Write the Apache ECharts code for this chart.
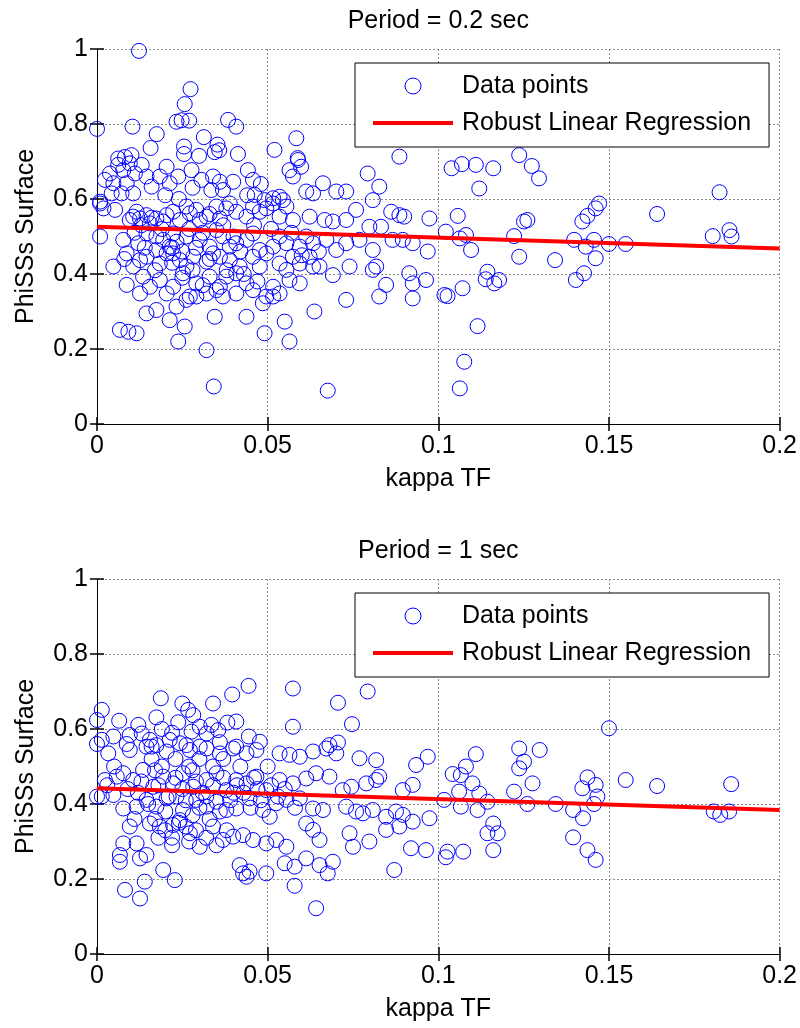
<!DOCTYPE html>
<html>
<head>
<meta charset="utf-8">
<script src="https://cdn.jsdelivr.net/npm/echarts@6/dist/echarts.min.js"></script>
<style>
html,body{margin:0;padding:0;background:#fff;}
#chart{width:800px;height:1028px;}
</style>
</head>
<body>
<div id="chart"></div>
<script>
// ---------- DATA ----------
const xTickLabels = ['0', '0.05', '0.1', '0.15', '0.2'];
const yTickLabels = ['0', '0.2', '0.4', '0.6', '0.8', '1'];
const titles = ['Period = 0.2 sec', 'Period = 1 sec'];
const xLabel = 'kappa TF';
const yLabel = 'PhiSSs Surface';
const legendNames = ['Data points', 'Robust Linear Regression'];

const pointsTop = [
  [0.0123,0.995],[0.0274,0.893],[0.0257,0.853],[0.0233,0.806],[0.0248,0.81],[0.027,0.809],[0.0,0.787],[0.0104,0.793],
  [0.0175,0.773],[0.0384,0.811],[0.0408,0.793],[0.0584,0.762],[0.052,0.731],[0.0313,0.765],[0.0353,0.745],[0.0358,0.73],
  [0.0345,0.725],[0.0255,0.74],[0.0255,0.72],[0.0299,0.715],[0.0157,0.736],[0.0413,0.72],[0.0588,0.709],[0.0062,0.708],
  [0.0082,0.712],[0.0101,0.717],
  [0.0023,0.651],[0.0048,0.642],[0.0062,0.691],[0.0077,0.677],[0.0096,0.695],[0.0111,0.668],[0.0131,0.691],[0.0087,0.642],
  [0.0106,0.615],[0.0072,0.615],[0.0043,0.615],[0.016,0.633],[0.0204,0.686],[0.0184,0.66],[0.0213,0.642],[0.0238,0.66],
  [0.0277,0.677],[0.0306,0.651],[0.034,0.66],[0.036,0.646],[0.0369,0.624],[0.0399,0.646],[0.0335,0.624],[0.0442,0.677],
  [0.0457,0.651],[0.0462,0.611],[0.0491,0.597],[0.0516,0.588],[0.0535,0.606],[0.0564,0.677],[0.0574,0.66],[0.0589,0.704],
  [0.0598,0.686],[0.0613,0.62],[0.0633,0.615],[0.0662,0.642],[0.0701,0.62],[0.073,0.62],[0.0793,0.668],[0.0827,0.633],
  [0.0808,0.597],[0.0886,0.713],[0.0009,0.593],[0.0038,0.668],[0.0145,0.66],
  [0.0009,0.588],[0.0019,0.575],[0.0053,0.571],[0.0106,0.553],[0.0126,0.548],[0.0145,0.557],[0.0174,0.548],[0.0194,0.54],
  [0.0223,0.566],[0.0272,0.562],[0.0291,0.571],[0.0321,0.553],[0.035,0.58],[0.0379,0.575],[0.0408,0.566],[0.0438,0.553],
  [0.0477,0.566],[0.0496,0.575],[0.0535,0.553],[0.0574,0.544],[0.0623,0.553],[0.0667,0.544],[0.0691,0.54],[0.073,0.544],
  [0.0759,0.571],[0.0798,0.526],[0.0832,0.526],[0.0862,0.566],[0.0886,0.557],[0.09,0.553],
  [0.0096,0.544],[0.0116,0.566],[0.0155,0.535],[0.0204,0.557],[0.0243,0.544],[0.0262,0.58],[0.0301,0.544],[0.036,0.548],
  [0.0389,0.588],[0.0457,0.58],[0.0516,0.602],[0.0545,0.597],[0.0555,0.58],
  [0.0009,0.5],[0.0077,0.491],[0.0121,0.482],[0.0174,0.5],[0.0213,0.473],[0.0233,0.486],[0.0262,0.5],[0.0301,0.491],
  [0.033,0.473],[0.0369,0.5],[0.0408,0.482],[0.0438,0.491],[0.0477,0.464],[0.0516,0.473],[0.0555,0.482],[0.0594,0.473],
  [0.0633,0.482],[0.0672,0.491],[0.0701,0.464],[0.073,0.482],[0.0769,0.491],[0.0808,0.464],[0.0866,0.491],[0.0896,0.491],
  [0.0925,0.482],[0.0145,0.508],[0.0194,0.491],[0.0223,0.508],[0.035,0.517],[0.0389,0.473],[0.0457,0.508],[0.0535,0.5],
  [0.0613,0.5],
  [0.0048,0.42],[0.0087,0.455],[0.0126,0.437],[0.0145,0.446],[0.0174,0.464],[0.0204,0.455],[0.0243,0.437],[0.0282,0.446],
  [0.0321,0.433],[0.036,0.446],[0.0389,0.437],[0.0418,0.42],[0.0457,0.446],[0.0496,0.455],[0.0535,0.428],[0.0574,0.446],
  [0.0623,0.446],[0.0652,0.42],[0.0691,0.397],[0.074,0.42],[0.0818,0.42],[0.0808,0.411],[0.0847,0.371],[0.0915,0.402],
  [0.0925,0.375],[0.0106,0.42],[0.0184,0.428],[0.0223,0.455],[0.0262,0.42],[0.034,0.455],[0.0477,0.42],[0.0555,0.411],
  [0.0594,0.428],
  [0.0087,0.371],[0.0135,0.393],[0.0155,0.366],[0.0184,0.384],[0.0223,0.366],[0.0252,0.402],[0.0272,0.34],[0.0291,0.375],
  [0.033,0.393],[0.036,0.366],[0.0379,0.393],[0.0408,0.402],[0.0438,0.375],[0.0457,0.357],[0.0496,0.34],[0.0516,0.366],
  [0.0535,0.348],[0.0564,0.384],[0.0594,0.375],[0.0633,0.42],[0.0827,0.34],[0.0925,0.335],[0.0126,0.348],[0.0204,0.348],
  [0.0321,0.348],
  [0.0145,0.295],[0.0174,0.304],[0.0213,0.277],[0.0233,0.313],[0.0262,0.331],[0.0291,0.34],[0.035,0.357],[0.0369,0.34],
  [0.0408,0.348],[0.0486,0.322],[0.0516,0.34],[0.0637,0.3],[0.073,0.331],
  [0.0067,0.251],[0.0092,0.246],[0.0116,0.242],[0.0257,0.26],[0.0345,0.286],[0.0438,0.286],[0.0491,0.242],[0.055,0.273],
  [0.0564,0.22],[0.0238,0.22],[0.0321,0.197],[0.0342,0.1],[0.0676,0.089],
  [0.013,0.53],[0.016,0.55],[0.019,0.52],[0.022,0.47],[0.025,0.46],[0.027,0.52],[0.029,0.47],[0.031,0.51],
  [0.033,0.56],[0.037,0.53],[0.04,0.5],[0.042,0.46],[0.046,0.53],[0.051,0.52],[0.022,0.43],[0.025,0.39],
  [0.028,0.41],[0.031,0.37],[0.038,0.41],[0.043,0.4],[0.047,0.38],[0.017,0.41],[0.014,0.47],[0.011,0.51],
  [0.008,0.44],[0.057,0.51],[0.06,0.45],[0.065,0.46],[0.033,0.44],[0.02,0.61],[0.024,0.6],[0.028,0.63],
  [0.044,0.61],[0.048,0.64],
  [0.0974,0.548],[0.0969,0.46],[0.0964,0.384],[0.1039,0.682],[0.1069,0.693],[0.111,0.691],[0.1161,0.682],[0.112,0.628],
  [0.1237,0.717],[0.1274,0.688],[0.1295,0.655],[0.1057,0.555],[0.1022,0.513],[0.1081,0.504],[0.1063,0.495],[0.1096,0.464],
  [0.1222,0.501],[0.1237,0.446],[0.1251,0.54],[0.1261,0.544],[0.1144,0.406],[0.1139,0.386],[0.1164,0.375],[0.1178,0.384],
  [0.1071,0.362],[0.1018,0.344],[0.1027,0.341],[0.1115,0.261],[0.1076,0.166],[0.1063,0.095],[0.1342,0.437],[0.1398,0.491],
  [0.1432,0.473],[0.1456,0.491],[0.1461,0.442],[0.1427,0.402],[0.1403,0.384],[0.1422,0.54],[0.1437,0.555],[0.1461,0.575],
  [0.1471,0.588],[0.15,0.48],[0.1549,0.48],[0.1641,0.56],[0.1824,0.618],[0.1804,0.501],[0.1853,0.517],[0.1859,0.5]
];

const pointsBottom = [
  [0.0,0.624],[0.0014,0.651],[0.0014,0.571],[0.0048,0.58],[0.0065,0.622],[0.0096,0.584],[0.0121,0.611],[0.0131,0.588],
  [0.0174,0.631],[0.0187,0.682],[0.0238,0.618],[0.025,0.668],[0.0267,0.651],[0.0282,0.637],[0.0277,0.593],[0.0301,0.606],
  [0.0321,0.588],[0.034,0.668],[0.0335,0.611],[0.0262,0.557],[0.0213,0.571],[0.016,0.553],[0.0155,0.571],[0.0396,0.692],
  [0.0444,0.715],[0.0382,0.617],[0.0408,0.62],[0.0355,0.597],[0.0408,0.553],[0.0477,0.566],[0.0301,0.553],[0.0574,0.708],
  [0.0574,0.606],[0.0681,0.557],[0.0706,0.564],[0.0706,0.67],[0.0747,0.613],[0.0793,0.7],[0.0087,0.56],[0.019,0.6],
  [0.036,0.565],[0.0445,0.58],[0.022,0.59],
  [0.0033,0.535],[0.0096,0.544],[0.0145,0.553],[0.0174,0.557],[0.0204,0.54],[0.0243,0.562],[0.0272,0.544],[0.0321,0.548],
  [0.036,0.535],[0.0399,0.548],[0.0438,0.535],[0.0467,0.544],[0.0535,0.535],[0.0564,0.531],[0.0594,0.526],[0.0633,0.54],
  [0.0672,0.548],[0.0701,0.535],[0.0769,0.522],[0.0818,0.517],[0.0935,0.504],
  [0.0023,0.464],[0.0058,0.473],[0.0077,0.482],[0.0106,0.464],[0.0135,0.491],[0.0165,0.446],[0.0194,0.473],[0.0223,0.455],
  [0.0252,0.482],[0.0282,0.446],[0.0321,0.464],[0.035,0.482],[0.0379,0.437],[0.0408,0.464],[0.0438,0.455],[0.0467,0.473],
  [0.0496,0.437],[0.0535,0.464],[0.0574,0.455],[0.0613,0.468],[0.0642,0.482],[0.0681,0.473],[0.072,0.437],[0.0745,0.446],
  [0.0789,0.455],[0.0818,0.464],[0.0827,0.473],[0.0896,0.437],[0.0925,0.451],
  [0.0014,0.42],[0.0048,0.424],[0.0077,0.388],[0.0116,0.393],[0.0145,0.411],[0.0174,0.393],[0.0204,0.415],[0.0233,0.42],
  [0.0252,0.384],[0.0291,0.411],[0.0321,0.393],[0.035,0.406],[0.0379,0.384],[0.0408,0.388],[0.0447,0.415],[0.0486,0.384],
  [0.0506,0.366],[0.0525,0.402],[0.0555,0.411],[0.0594,0.415],[0.0633,0.388],[0.0662,0.384],[0.073,0.393],[0.0759,0.38],
  [0.0779,0.375],[0.0808,0.384],[0.0847,0.366],[0.0876,0.38],[0.0896,0.371],[0.0925,0.353],
  [0.0096,0.34],[0.0077,0.295],[0.0116,0.295],[0.0155,0.348],[0.0184,0.34],[0.0223,0.344],[0.0243,0.357],[0.0272,0.322],
  [0.0301,0.286],[0.034,0.34],[0.0369,0.304],[0.0399,0.313],[0.0428,0.317],[0.0457,0.304],[0.0496,0.295],[0.0525,0.304],
  [0.0555,0.286],[0.0613,0.348],[0.0633,0.331],[0.0652,0.304],[0.074,0.322],[0.075,0.286],[0.0798,0.3],[0.0847,0.331],
  [0.0886,0.34],[0.092,0.282],
  [0.0067,0.264],[0.0067,0.246],[0.0126,0.255],[0.0145,0.264],[0.0194,0.224],[0.0228,0.197],[0.014,0.193],[0.0082,0.171],
  [0.0126,0.148],[0.0418,0.237],[0.0428,0.215],[0.0438,0.206],[0.0447,0.22],[0.0496,0.215],[0.055,0.242],[0.0579,0.233],
  [0.0579,0.182],[0.0613,0.255],[0.0652,0.237],[0.0676,0.215],[0.0691,0.246],[0.0871,0.224],[0.0642,0.122],
  [0.012,0.43],[0.018,0.45],[0.02,0.38],[0.024,0.35],[0.026,0.41],[0.028,0.37],[0.031,0.43],[0.033,0.36],
  [0.022,0.31],[0.019,0.5],[0.027,0.5],[0.034,0.5],[0.04,0.43],[0.042,0.5],[0.016,0.52],[0.023,0.52],
  [0.03,0.52],[0.045,0.39],[0.038,0.33],[0.055,0.44],[0.05,0.5],[0.058,0.39],[0.047,0.44],[0.009,0.44],
  [0.005,0.5],[0.003,0.45],[0.0,0.42],[0.0,0.56],
  [0.013,0.46],[0.015,0.4],[0.017,0.36],[0.021,0.42],[0.023,0.47],[0.025,0.44],[0.026,0.34],[0.029,0.46],
  [0.03,0.39],[0.032,0.42],[0.034,0.45],[0.036,0.38],[0.037,0.47],[0.039,0.41],[0.041,0.45],[0.043,0.43],
  [0.046,0.47],[0.048,0.41],[0.051,0.45],[0.053,0.42],[0.011,0.36],[0.018,0.31],[0.02,0.33],[0.022,0.29],
  [0.027,0.3],[0.029,0.33],[0.032,0.31],[0.035,0.29],[0.017,0.49],[0.028,0.49],[0.037,0.52],
  [0.0969,0.526],[0.0974,0.362],[0.0964,0.277],[0.1027,0.273],[0.1022,0.258],[0.1073,0.273],[0.1161,0.277],[0.1144,0.322],
  [0.1174,0.322],[0.1161,0.348],[0.1115,0.384],[0.1066,0.393],[0.1061,0.433],[0.1042,0.48],[0.1066,0.477],[0.1081,0.5],
  [0.11,0.455],[0.112,0.428],[0.1144,0.406],[0.111,0.533],[0.1017,0.411],[0.1222,0.433],[0.1237,0.548],[0.1251,0.513],
  [0.1237,0.495],[0.1276,0.455],[0.1261,0.4],[0.1297,0.544],[0.1344,0.4],[0.1395,0.384],[0.1424,0.362],[0.1395,0.311],
  [0.1437,0.277],[0.1461,0.251],[0.1422,0.442],[0.1437,0.471],[0.1461,0.451],[0.1466,0.42],[0.1456,0.4],[0.15,0.602],
  [0.1549,0.464],[0.1641,0.448],[0.1858,0.453],[0.1807,0.38],[0.1826,0.371],[0.1852,0.38]
];

const regTop = [[0, 0.526], [0.2, 0.468]];
const regBottom = [[0, 0.442], [0.2, 0.384]];

// ---------- STYLE ----------
const FONT = 'Liberation Sans, Arial, Helvetica, sans-serif';
const FS = 25;
const gridLine = { show: true, lineStyle: { color: '#8c8c8c', type: [2, 2], width: 1 } };

const grids = [
  { left: 97, top: 49, width: 684, height: 375 },
  { left: 97, top: 579, width: 684, height: 375 }
];

const xAxes = [], yAxes = [], series = [], legends = [];
const pointSets = [pointsTop, pointsBottom];
const regSets = [regTop, regBottom];
const legendTops = [63, 593];

for (let g = 0; g < 2; g++) {
  xAxes.push({
    gridIndex: g, type: 'value', min: 0, max: 0.2, interval: 0.05, position: 'bottom',
    axisLine: { show: true, onZero: false, lineStyle: { color: '#000', width: 1 } },
    axisTick: { show: true, inside: true, length: 7, lineStyle: { color: '#000', width: 1.5 } },
    axisLabel: { show: true, margin: 10, color: '#000', fontFamily: FONT, fontSize: FS,
      formatter: (v, i) => xTickLabels[i] },
    splitLine: gridLine,
    name: xLabel, nameLocation: 'middle', nameGap: 43,
    nameTextStyle: { color: '#000', fontFamily: FONT, fontSize: FS }
  });
  xAxes.push({
    gridIndex: g, type: 'value', min: 0, max: 0.2, interval: 0.05, position: 'top',
    axisLine: { show: false },
    axisTick: { show: true, inside: true, length: 7, lineStyle: { color: '#000', width: 1.5 } },
    axisLabel: { show: false }, splitLine: { show: false },
    name: titles[g], nameLocation: 'middle', nameGap: 15,
    nameTextStyle: { color: '#000', fontFamily: FONT, fontSize: FS }
  });
  yAxes.push({
    gridIndex: g, type: 'value', min: 0, max: 1, interval: 0.2, position: 'left',
    axisLine: { show: true, onZero: false, lineStyle: { color: '#000', width: 1 } },
    axisTick: { show: true, inside: true, length: 7, lineStyle: { color: '#000', width: 1.5 } },
    axisLabel: { show: true, margin: 9, color: '#000', fontFamily: FONT, fontSize: FS,
      formatter: (v, i) => yTickLabels[i] },
    splitLine: gridLine,
    name: yLabel, nameLocation: 'middle', nameGap: 58, nameRotate: 90,
    nameTextStyle: { color: '#000', fontFamily: FONT, fontSize: FS }
  });
  yAxes.push({
    gridIndex: g, type: 'value', min: 0, max: 1, interval: 0.2, position: 'right',
    axisLine: { show: false },
    axisTick: { show: true, inside: true, length: 7, lineStyle: { color: '#000', width: 1.5 } },
    axisLabel: { show: false }, splitLine: { show: false }
  });
  series.push({
    name: legendNames[0], type: 'scatter', xAxisIndex: g * 2, yAxisIndex: g * 2,
    data: pointSets[g], symbol: 'circle', symbolSize: 15,
    itemStyle: { color: 'rgba(0,0,0,0)', borderColor: '#0000ff', borderWidth: 1, opacity: 1 },
    emphasis: { disabled: true }, z: 2
  });
  series.push({
    name: legendNames[1], type: 'line', xAxisIndex: g * 2, yAxisIndex: g * 2,
    data: regSets[g], symbol: 'none', showSymbol: false,
    lineStyle: { color: '#ff0000', width: 4 }, itemStyle: { color: '#ff0000' },
    emphasis: { disabled: true }, z: 3
  });
  legends.push({
    show: true, orient: 'vertical', left: 355, top: legendTops[g],
    backgroundColor: '#fff', borderColor: '#000', borderWidth: 1, borderRadius: 0,
    padding: [10, 18, 11, 16], itemGap: 11, itemWidth: 80, itemHeight: 16,
    selectedMode: false,
    textStyle: { color: '#000', fontFamily: FONT, fontSize: FS, lineHeight: 26, padding: [0, 0, 0, 4] },
    data: [
      { name: legendNames[0], icon: 'circle', itemStyle: { color: 'rgba(0,0,0,0)', borderColor: '#0000ff', borderWidth: 1 } },
      { name: legendNames[1], itemStyle: { opacity: 0 }, lineStyle: { color: '#ff0000', width: 4, opacity: 1 } }
    ]
  });
}

const chart = echarts.init(document.getElementById('chart'), null, { renderer: 'canvas' });
chart.setOption({
  animation: false,
  backgroundColor: '#fff',
  grid: grids,
  xAxis: xAxes,
  yAxis: yAxes,
  legend: legends,
  series: series
});
</script>
</body>
</html>
